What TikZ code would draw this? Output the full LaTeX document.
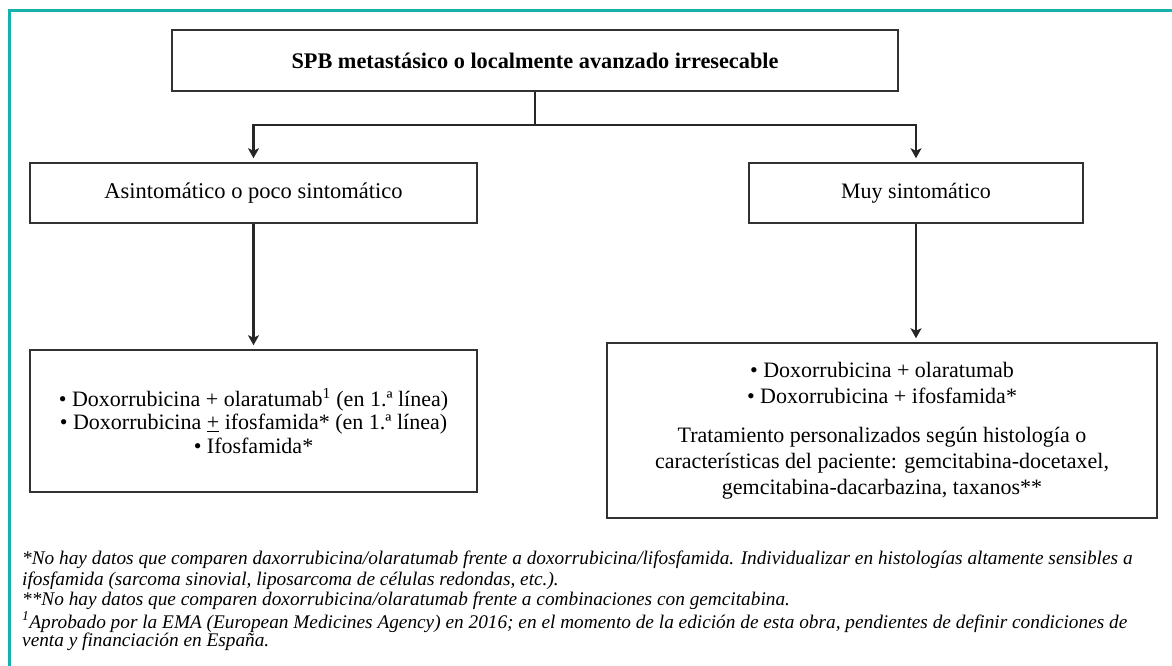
\documentclass[tikz,border=0pt]{standalone}
\usepackage{fontspec}
\setmainfont{Liberation Serif}
\usetikzlibrary{arrows.meta}
\definecolor{frameteal}{RGB}{20,178,170}
\definecolor{boxline}{RGB}{50,50,50}
\tikzset{
  box/.style={draw=boxline, line width=1.5pt, rectangle, inner sep=0pt, align=center,
    font=\fontsize{22}{26}\selectfont},
  conn/.style={draw=black!85, line width=2.6pt},
  arr/.style={conn, -{Stealth[length=10pt,width=11pt,inset=2.5pt]}, shorten >=4pt},
  foot/.style={anchor=west, inner sep=0pt, font=\fontsize{19.3}{20.5}\selectfont\itshape}
}
\begin{document}
\begin{tikzpicture}[x=1pt,y=-1pt]
\useasboundingbox (0,0) rectangle (1172,666);
% frame
\draw[frameteal, line width=3pt] (1172,10.5) -- (9.5,10.5) -- (9.5,666);
% boxes
\node[box, minimum width=726pt, minimum height=61pt, font=\fontsize{22.3}{26}\selectfont\bfseries] (top) at (535,60.5) {SPB metastásico o localmente avanzado irresecable};
\node[box, minimum width=447pt, minimum height=60pt, font=\fontsize{22.5}{26}\selectfont] (ml) at (253.5,193) {Asintomático o poco sintomático};
\node[box, minimum width=334pt, minimum height=60pt] (mr) at (916,193) {Muy sintomático};
\node[box, minimum width=447pt, minimum height=142pt, font=\fontsize{22}{23.5}\selectfont] (bl) at (253.5,421) {• Doxorrubicina + olaratumab\textsuperscript{1} (en 1.ª línea)\\• Doxorrubicina \underline{+} ifosfamida* (en 1.ª línea)\\• Ifosfamida*};
\node[box, minimum width=550pt, minimum height=175pt] (br) at (882,430.5) {• Doxorrubicina + olaratumab\\• Doxorrubicina + ifosfamida*\\[13pt]Tratamiento personalizados según histología o\\características del paciente: gemcitabina-docetaxel,\\gemcitabina-dacarbazina, taxanos**};
% connectors
\coordinate (j) at (535,125);
\draw[conn] (top.south) -- (j);
\draw[arr] (j) -| (ml.north);
\draw[arr] (j) -| (mr.north);
\draw[arr] (ml.south) -- (bl.north);
\draw[arr] (mr.south) -- (mr.south |- br.north);
% footnotes
\node[foot] (f1) at (22,560) {*No hay datos que comparen daxorrubicina/olaratumab frente a doxorrubicina/lifosfamida. Individualizar en histologías altamente sensibles a};
\node[foot] (f2) at (22,581) {ifosfamida (sarcoma sinovial, liposarcoma de células redondas, etc.).};
\node[foot] (f3) at (22,601) {**No hay datos que comparen doxorrubicina/olaratumab frente a combinaciones con gemcitabina.};
\node[foot] (f4) at (22,622) {\textsuperscript{1}Aprobado por la EMA (European Medicines Agency) en 2016; en el momento de la edición de esta obra, pendientes de definir condiciones de};
\node[foot] (f5) at (22,642) {venta y financiación en España.};
\end{tikzpicture}
\end{document}
